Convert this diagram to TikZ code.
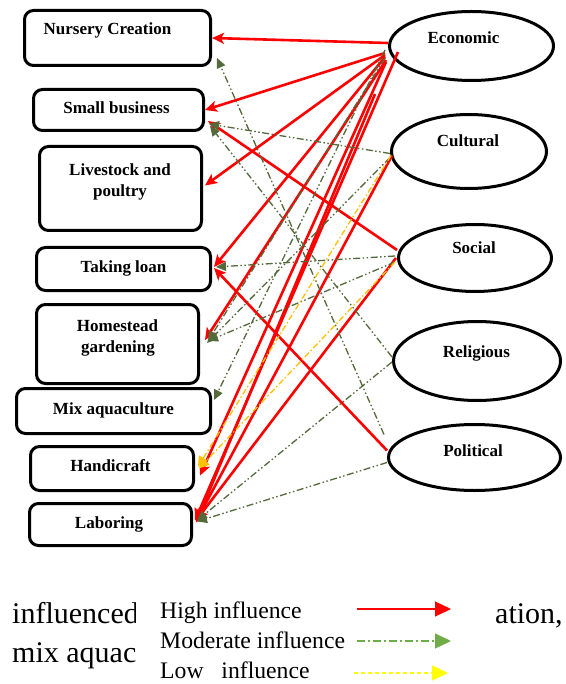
\documentclass[tikz,border=0pt]{standalone}
\usepackage{fontspec}
\setmainfont{Liberation Serif}
\usetikzlibrary{arrows.meta,calc,shapes.geometric}

\definecolor{hired}{RGB}{255,0,0}
\definecolor{modgreen}{RGB}{84,106,59}
\definecolor{lowyel}{RGB}{255,192,0}
\definecolor{leggreen}{RGB}{112,173,71}
\definecolor{legyel}{RGB}{255,255,0}

\begin{document}
\begin{tikzpicture}[x=1pt,y=-1pt,
  factor/.style={draw=black, line width=3pt, rounded corners=9pt, inner sep=0pt},
  cause/.style={draw=black, line width=3pt, ellipse, inner sep=0pt},
  lbl/.style={anchor=base, inner sep=0pt, font=\bfseries\fontsize{17}{22}\selectfont},
  high/.style={draw=hired, line width=2.6pt, -{Stealth[length=12pt,width=11pt,inset=3pt]}},
  moderate/.style={draw=modgreen, line width=1.3pt,
    dash pattern=on 7pt off 2.5pt on 1.5pt off 2.5pt on 1.5pt off 2.5pt,
    -{Triangle[length=10pt,width=9pt]}},
  low/.style={draw=lowyel, line width=1.3pt,
    dash pattern=on 6pt off 2.5pt on 1.5pt off 2.5pt,
    -{Triangle[length=10pt,width=10pt]}},
  bodytext/.style={anchor=base west, inner sep=0pt, font=\fontsize{30}{36}\selectfont},
  legtext/.style={anchor=base west, inner sep=0pt, font=\fontsize{23.7}{28}\selectfont},
  legtip/.style={-{Triangle[length=16pt,width=15pt]}}
]
\useasboundingbox (0,0) rectangle (565,684);
\fill[white] (0,0) rectangle (565,684);

% livelihood options (left column)
\node[factor, minimum width=186pt, minimum height=55pt] (nur)  at (117.5,38)   {};
\node[factor, minimum width=170pt, minimum height=41pt] (sb)   at (118.5,110)  {};
\node[factor, minimum width=162pt, minimum height=84pt] (liv)  at (120.5,188.5){};
\node[factor, minimum width=174pt, minimum height=43pt] (loan) at (123.5,269)  {};
\node[factor, minimum width=162pt, minimum height=79pt] (home) at (117.5,344)  {};
\node[factor, minimum width=194pt, minimum height=45pt] (mix)  at (113.5,411)  {};
\node[factor, minimum width=163pt, minimum height=44pt] (hand) at (112,468.5)  {};
\node[factor, minimum width=162pt, minimum height=42pt] (lab)  at (110.5,524.5){};

\node[lbl] (nurt)  at (107.5,35) {Nursery Creation};
\node[lbl] (sbt)   at (116.5,114) {Small business};
\node[lbl] (livt1) at (120,176) {Livestock and};
\node[lbl] (livt2) at (120,197) {poultry};
\node[lbl] (loant) at (123.5,272) {Taking loan};
\node[lbl] (homet1) at (117.5,331) {Homestead};
\node[lbl] (homet2) at (118,352) {gardening};
\node[lbl] (mixt)  at (113.5,414) {Mix aquaculture};
\node[lbl] (handt) at (110.5,471) {Handicraft};
\node[lbl] (labt)  at (109,528) {Laboring};

% influencing factors (right column)
\node[cause, minimum width=164pt, minimum height=69pt] (eco) at (471.5,46)  {};
\node[cause, minimum width=155pt, minimum height=74pt] (cul) at (469,151.5) {};
\node[cause, minimum width=153pt, minimum height=67pt] (soc) at (475,258)   {};
\node[cause, minimum width=167pt, minimum height=79pt] (rel) at (477,361)   {};
\node[cause, minimum width=172pt, minimum height=66pt] (pol) at (474.5,457.5){};

\node[lbl] (ecot) at (463.5,44) {Economic};
\node[lbl] (cult) at (468,147) {Cultural};
\node[lbl] (soct) at (474,254) {Social};
\node[lbl] (relt) at (476.5,357) {Religious};
\node[lbl] (polt) at (473,456) {Political};

\coordinate (ecotail) at (375,94);

% high influence
\draw[high] ($(eco.west)+(0,-3)$)   -- (nur.east);
\draw[high] ($(eco.west)+(-3,7)$)   -- (sb.east);
\draw[high] ($(eco.west)+(-3,9)$)   -- ($(liv.east)+(2,-3)$);
\draw[high] ($(eco.west)+(-3,11)$)  -- ($(loan.east)+(2,-2)$);
\draw[high] ($(eco.west)+(-2,14)$)  -- ($(home.east)+(5,-4)$);
\draw[high] ($(eco.west)+(10,6)$)   -- ($(lab.east)+(2,-4)$);
\draw[high] ($(eco.west)+(-2,16)$)  -- ($(hand.east)+(5,7)$);
\draw[high] (ecotail)               -- ($(lab.east)+(3,-2)$);
\draw[high] ($(cul.west)+(2,4)$)    -- ($(lab.east)+(3,-3)$);
\draw[high] ($(soc.west)+(0,-8)$)   -- ($(sb.east)+(3,11)$);
\draw[high] ($(soc.west)+(-1,0)$)   -- ($(lab.east)+(3,-4)$);
\draw[high] ($(pol.west)+(0,-7)$)   -- ($(loan.east)+(2,-1)$);

% moderate influence
\draw[moderate] ($(pol.west)+(-3,-23)$) -- ($(nur.east)+(5,20)$);
\draw[moderate] ($(cul.west)+(0,2)$)    -- ($(sb.east)+(4,14)$);
\draw[moderate] ($(rel.west)+(0,-4)$)   -- ($(sb.east)+(5,16)$);
\draw[moderate] ($(soc.west)+(-2,-2)$)  -- ($(loan.east)+(4,-2)$);
\draw[moderate] ($(soc.west)+(-2,4)$)   -- ($(home.east)+(8,-3)$);
\draw[moderate] ($(cul.west)+(0,6)$)    -- ($(home.east)+(7,-1)$);
\draw[moderate] ($(eco.west)+(-3,12)$)  -- ($(home.east)+(8,-3)$);
\draw[moderate] ($(eco.west)+(-3,4)$)   -- ($(mix.east)+(2,-11)$);
\draw[moderate] ($(rel.west)+(0,1)$)    -- ($(lab.east)+(4,-4)$);
\draw[moderate] ($(pol.west)+(0,5)$)    -- ($(lab.east)+(4,-3)$);

% low influence
\draw[low] ($(cul.west)+(1,4)$)  -- ($(hand.east)+(3,-2)$);
\draw[low] ($(soc.west)+(-2,4)$) -- ($(hand.east)+(4,0)$);

% running text, cut off at the left edge of the key
\begin{scope}
  \clip (0,585) rectangle (135,684);
  \node[bodytext] (para1) at (12,623)  {influenced};
  \node[bodytext] (para2) at (12,662)  {mix aquac};
\end{scope}
\node[bodytext] (para3) at (495,623) {ation,};

% key
\node[legtext] (khigh) at (160,618) {High influence};
\node[legtext] (kmod)  at (160,648) {Moderate influence};
\node[legtext] (klow)  at (160,678) {Low\ \ \ influence};
\coordinate (h1) at (357,609); \coordinate (h2) at (451,609);
\coordinate (m1) at (357,641); \coordinate (m2) at (451,641);
\coordinate (l1) at (354,673); \coordinate (l2) at (448,673);
\draw[legtip, draw=hired, line width=1.1pt] (h1) -- (h2);
\draw[legtip, draw=leggreen, line width=1.1pt,
  dash pattern=on 8pt off 3pt on 2pt off 3pt] (m1) -- (m2);
\draw[legtip, draw=legyel, line width=1.1pt,
  dash pattern=on 4pt off 3pt] (l1) -- (l2);
\end{tikzpicture}
\end{document}
